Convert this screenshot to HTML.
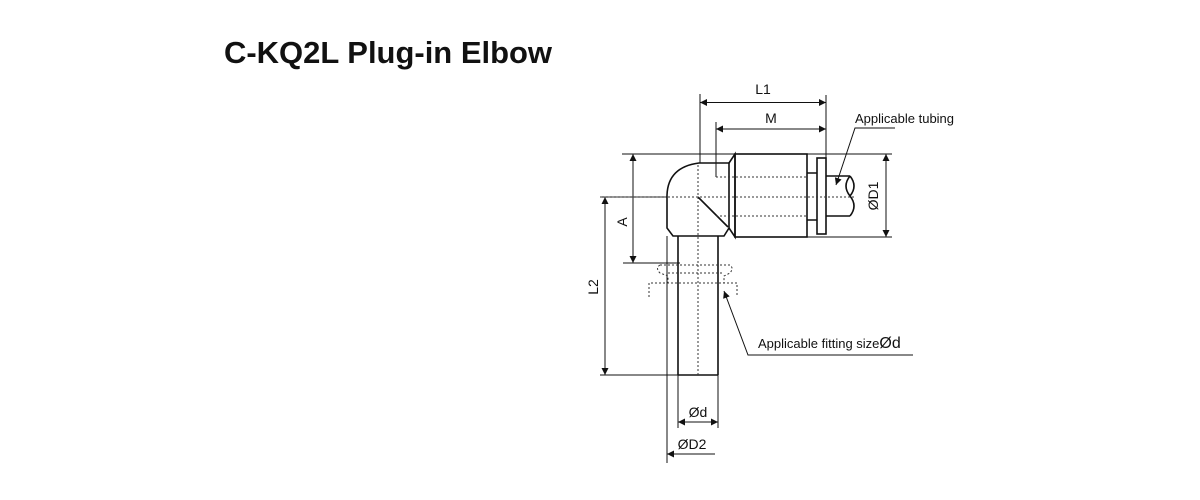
<!DOCTYPE html>
<html><head><meta charset="utf-8"><style>
html,body{margin:0;padding:0;background:#fff;}
svg{display:block;}
text{font-family:"Liberation Sans",Arial,sans-serif;fill:#111;}
</style></head><body>
<svg width="1200" height="500" viewBox="0 0 1200 500" xmlns="http://www.w3.org/2000/svg">
<defs>
<marker id="ar" viewBox="0 0 10 10" refX="10" refY="5" markerWidth="9" markerHeight="7" orient="auto-start-reverse" markerUnits="userSpaceOnUse"><path d="M0,0 L10,5 L0,10 z" fill="#111"/></marker>
</defs>
<text x="224" y="63" font-size="30.5" font-weight="bold" textLength="328" lengthAdjust="spacingAndGlyphs">C-KQ2L Plug-in Elbow</text>

<g stroke="#111" fill="none" stroke-width="1">
<line x1="700" y1="94" x2="700" y2="163"/>
<line x1="826" y1="95" x2="826" y2="158"/>
<line x1="716" y1="122" x2="716" y2="177"/>
<line x1="622" y1="154" x2="892" y2="154"/>
<line x1="807" y1="237" x2="892" y2="237"/>
<line x1="600" y1="197" x2="667" y2="197"/>
<line x1="623" y1="263" x2="680" y2="263"/>
<line x1="600" y1="375" x2="678" y2="375"/>
<line x1="667" y1="236" x2="667" y2="463"/>
<line x1="678" y1="375" x2="678" y2="428"/>
<line x1="718" y1="375" x2="718" y2="428"/>
<line x1="700" y1="102.5" x2="826" y2="102.5" marker-start="url(#ar)" marker-end="url(#ar)"/>
<line x1="716" y1="129" x2="826" y2="129" marker-start="url(#ar)" marker-end="url(#ar)"/>
<line x1="886" y1="154" x2="886" y2="237" marker-start="url(#ar)" marker-end="url(#ar)"/>
<line x1="633" y1="154" x2="633" y2="263" marker-start="url(#ar)" marker-end="url(#ar)"/>
<line x1="605" y1="197" x2="605" y2="375" marker-start="url(#ar)" marker-end="url(#ar)"/>
<line x1="678" y1="422" x2="718" y2="422" marker-start="url(#ar)" marker-end="url(#ar)"/>
<line x1="715" y1="454" x2="667" y2="454" marker-end="url(#ar)"/>
<polyline points="895,128 855,128 836,185" marker-end="url(#ar)"/>
<polyline points="913,355 748,355 724,291" marker-end="url(#ar)"/>
</g>

<g stroke="#111" fill="none" stroke-width="1.6">
<path d="M699,163 L729,163 L729,228 L724,236 L673,236 L667,228 L667,195 Q668,167 699,163 Z"/>
<line x1="698" y1="197" x2="728" y2="227"/>
<path d="M729,163 L735,154 L735,237 L729,228"/>
<rect x="735" y="154" width="72" height="83"/>
<path d="M807,173 L817,173 M807,220 L817,220"/>
<rect x="817" y="158" width="9" height="76"/>
<path d="M826,176 L850,176 M826,216 L850,216"/>
<path d="M850,176 Q842,186 850,196 Q858,206 850,216"/>
<path d="M850,176 Q858,186 850,196"/>
<line x1="678" y1="236" x2="678" y2="375"/>
<line x1="718" y1="236" x2="718" y2="375"/>
<line x1="678" y1="375" x2="718" y2="375"/>
</g>
<g stroke="#333" fill="none" stroke-width="1" stroke-dasharray="2,2">
<line x1="600" y1="197" x2="855" y2="197"/>
<line x1="716" y1="177" x2="807" y2="177"/>
<line x1="716" y1="216" x2="807" y2="216"/>
<line x1="698" y1="165" x2="698" y2="375"/>
<path d="M660,265 L730,265 Q734,268 730,273 L724,276 L724,283 M660,265 Q655,268 660,273 L668,276 L668,283 M668,273 L724,273"/>
<path d="M649,297 L649,283 L737,283 L737,297"/>
</g>

<g font-size="14">
<text x="763" y="94" text-anchor="middle">L1</text>
<text x="771" y="123" text-anchor="middle">M</text>
<text x="855" y="123" font-size="13">Applicable tubing</text>
<text x="758" y="348" font-size="13">Applicable fitting size<tspan font-size="16">Ød</tspan></text>
<text x="698" y="417" text-anchor="middle">Ød</text>
<text x="692" y="449" text-anchor="middle">ØD2</text>
<text transform="translate(878,196) rotate(-90)" text-anchor="middle">ØD1</text>
<text transform="translate(627,222) rotate(-90)" text-anchor="middle">A</text>
<text transform="translate(598,287) rotate(-90)" text-anchor="middle">L2</text>
</g>
</svg>
</body></html>
